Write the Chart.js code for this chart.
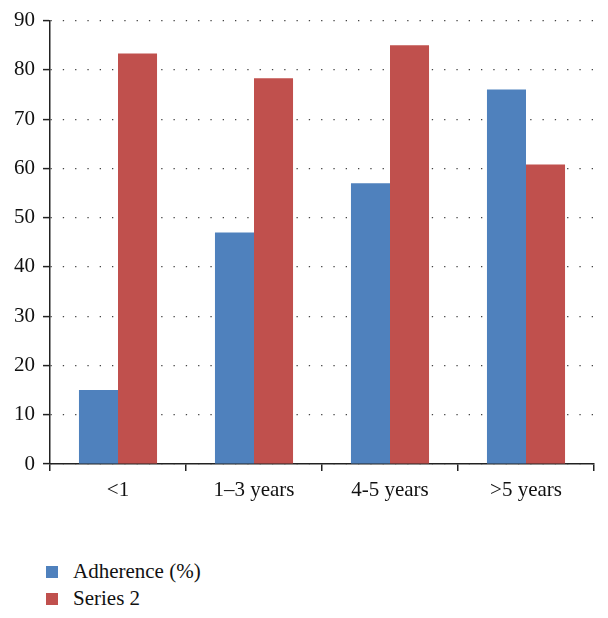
<!DOCTYPE html>
<html lang="en">
<head>
  <meta charset="UTF-8" />
  <title>Adherence chart</title>
  <script src="https://cdn.jsdelivr.net/npm/chart.js"></script>
  <style>
    body { margin: 0; background: #fff; }
    .wrap { position: relative; width: 608px; height: 618px; }
    .chart-box { position: absolute; left: 0; top: 0; width: 608px; height: 512px; }
    #legend { position: absolute; left: 46px; top: 558px; font-family: "Liberation Serif", serif; font-size: 21px; color: #111; }
    #legend div { display: flex; align-items: center; height: 27px; }
    #legend span.box { display: inline-block; width: 12px; height: 12px; margin-right: 15px; }
  </style>
</head>
<body>
  <div class="wrap">
    <div class="chart-box"><canvas id="chart"></canvas></div>
    <div id="legend"></div>
  </div>

  <script>
    const categories = ["<1", "1\u20133 years", "4-5 years", ">5 years"];
    const adherence = [15, 47, 57, 76];
    const series2 = [83.3, 78.3, 85, 60.8];
    const yTicks = [0, 10, 20, 30, 40, 50, 60, 70, 80, 90];

    const blue = "#4F81BD";
    const red = "#C0504D";
    const font = { family: '"Liberation Serif", serif', size: 21 };

    const chart = new Chart(document.getElementById("chart"), {
      type: "bar",
      data: {
        labels: categories,
        datasets: [
          { label: "Adherence (%)", data: adherence, backgroundColor: blue },
          { label: "Series 2", data: series2, backgroundColor: red }
        ]
      },
      options: {
        responsive: true,
        maintainAspectRatio: false,
        animation: false,
        layout: { padding: { top: 11, right: 14, left: 0, bottom: 0 } },
        datasets: { bar: { categoryPercentage: 0.574, barPercentage: 1 } },
        plugins: { legend: { display: false }, tooltip: { enabled: false } },
        scales: {
          x: {
            grid: { offset: true, drawOnChartArea: false, drawTicks: true, tickLength: 7, color: "#222", lineWidth: 1.5 },
            border: { color: "#222", width: 1.5 },
            ticks: { color: "#111", font: font, padding: 7 },
            afterFit: s => { s.height = 48; }
          },
          y: {
            min: 0,
            max: 90,
            afterBuildTicks: s => { s.ticks = yTicks.map(v => ({ value: v })); },
            grid: { color: "#444", lineWidth: 1.2, tickLength: 7, tickColor: "#222", tickWidth: 1.5 },
            border: { color: "#222", width: 1.5, dash: [1.3, 11] },
            ticks: { color: "#111", font: font, padding: 8 },
            afterFit: s => { s.width = 50; }
          }
        }
      }
    });

    const legend = document.getElementById("legend");
    chart.data.datasets.forEach(ds => {
      const row = document.createElement("div");
      row.innerHTML = '<span class="box" style="background:' + ds.backgroundColor + '"></span>' + ds.label;
      legend.appendChild(row);
    });
  </script>
</body>
</html>
